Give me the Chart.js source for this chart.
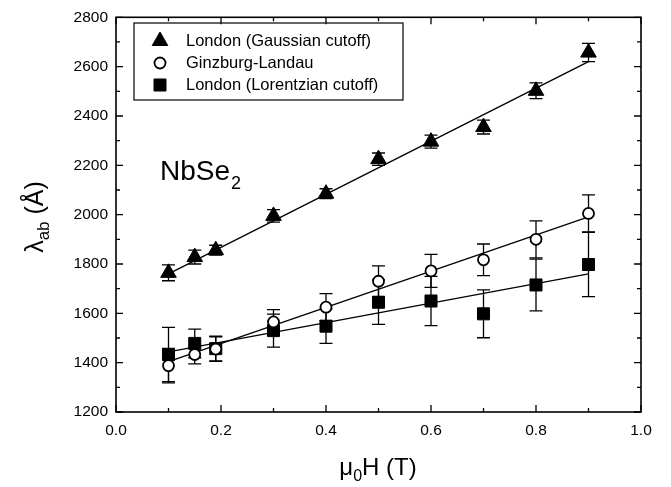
<!DOCTYPE html>
<html>
<head>
<meta charset="utf-8">
<title>NbSe2 penetration depth</title>
<script src="https://cdn.jsdelivr.net/npm/chart.js@4.4.1/dist/chart.umd.min.js"></script>
<style>
  html, body { margin: 0; padding: 0; background: #fff; }
  #wrap { width: 671px; height: 487px; position: relative; }
</style>
</head>
<body>
<div id="wrap"><canvas id="lambda-chart"></canvas></div>
<script>
// field values (T)
const fieldT = [0.1, 0.15, 0.19, 0.3, 0.4, 0.5, 0.6, 0.7, 0.8, 0.9];

// lambda_ab (Angstrom) and error bars for each model
const gaussLambda = [1764, 1828, 1856, 1995, 2085, 2225, 2296, 2355, 2502, 2657];
const gaussErr    = [32, 28, 20, 25, 20, 25, 26, 28, 32, 37];
const glLambda    = [1388, 1433, 1455, 1565, 1625, 1730, 1772, 1817, 1900, 2005];
const glErr       = [70, 38, 50, 50, 55, 62, 67, 64, 75, 75];
const lorLambda   = [1433, 1478, 1457, 1530, 1548, 1645, 1650, 1598, 1715, 1798];
const lorErr      = [110, 58, 50, 67, 70, 90, 100, 97, 105, 130];

// straight-line fits, given at the ends of the field range
const fitX     = [0.1, 0.9];
const gaussFit = [1760, 2620];
const glFit    = [1404, 1991];
const lorFit   = [1444, 1760];

const seriesLabels = ['London (Gaussian cutoff)', 'Ginzburg-Landau', 'London (Lorentzian cutoff)'];

const FONT = 'Arial, "Liberation Sans", Helvetica, sans-serif';

function pts(xs, ys) {
  return xs.map((x, i) => ({ x: x, y: ys[i] }));
}

function fitSet(ys) {
  return {
    data: pts(fitX, ys),
    showLine: true,
    borderColor: '#000',
    borderWidth: 1.3,
    pointRadius: 0,
    order: 2
  };
}

let data = {
  datasets: [
    {
      label: seriesLabels[0],
      data: pts(fieldT, gaussLambda),
      errs: gaussErr,
      pointStyle: 'triangle',
      pointRadius: 9,
      backgroundColor: '#000',
      borderColor: '#000',
      borderWidth: 1,
      order: 0
    },
    {
      label: seriesLabels[1],
      data: pts(fieldT, glLambda),
      errs: glErr,
      pointStyle: 'circle',
      pointRadius: 5.5,
      backgroundColor: '#fff',
      borderColor: '#000',
      borderWidth: 1.8,
      order: 0
    },
    {
      label: seriesLabels[2],
      data: pts(fieldT, lorLambda),
      errs: lorErr,
      pointStyle: 'rect',
      pointRadius: 8.5,
      backgroundColor: '#000',
      borderColor: '#000',
      borderWidth: 1,
      order: 0
    },
    fitSet(gaussFit),
    fitSet(glFit),
    fitSet(lorFit)
  ]
};

// error bars go under the markers
const errorBars = {
  id: 'errorBars',
  beforeDatasetsDraw(chart) {
    const ctx = chart.ctx;
    const xs = chart.scales.x, ys = chart.scales.y;
    ctx.save();
    ctx.strokeStyle = '#000';
    ctx.lineWidth = 1.3;
    chart.data.datasets.forEach(ds => {
      if (!ds.errs) return;
      ds.data.forEach((p, i) => {
        const px = xs.getPixelForValue(p.x);
        const top = ys.getPixelForValue(p.y + ds.errs[i]);
        const bot = ys.getPixelForValue(p.y - ds.errs[i]);
        ctx.beginPath();
        ctx.moveTo(px, top); ctx.lineTo(px, bot);
        ctx.moveTo(px - 6.5, top); ctx.lineTo(px + 6.5, top);
        ctx.moveTo(px - 6.5, bot); ctx.lineTo(px + 6.5, bot);
        ctx.stroke();
      });
    });
    ctx.restore();
  }
};

// frame, inward ticks on all four sides, titles, legend box and label
const decorations = {
  id: 'decorations',
  afterDraw(chart) {
    const ctx = chart.ctx;
    const a = chart.chartArea;
    const xs = chart.scales.x, ys = chart.scales.y;
    ctx.save();
    ctx.strokeStyle = '#000';
    ctx.lineWidth = 1.6;
    ctx.strokeRect(a.left, a.top, a.right - a.left, a.bottom - a.top);

    ctx.lineWidth = 1.3;
    ctx.beginPath();
    for (let v = 0; v <= 10; v++) {
      const px = xs.getPixelForValue(v / 10);
      const len = v % 2 === 0 ? 7 : 4;
      ctx.moveTo(px, a.bottom); ctx.lineTo(px, a.bottom - len);
      ctx.moveTo(px, a.top); ctx.lineTo(px, a.top + len);
    }
    for (let v = 1200; v <= 2800; v += 100) {
      const py = ys.getPixelForValue(v);
      const len = v % 200 === 0 ? 7 : 4;
      ctx.moveTo(a.left, py); ctx.lineTo(a.left + len, py);
      ctx.moveTo(a.right, py); ctx.lineTo(a.right - len, py);
    }
    ctx.stroke();

    ctx.fillStyle = '#000';
    ctx.textBaseline = 'alphabetic';

    // x title: mu_0 H (T)
    let parts = [['\u03bc', 24, 0], ['0', 16, 6], ['H (T)', 24, 0]];
    drawParts(ctx, parts, 378, 475);

    // y title: lambda_ab (A-ring), rotated
    ctx.save();
    ctx.translate(43, 217);
    ctx.rotate(-Math.PI / 2);
    parts = [['\u03bb', 25, 0], ['ab', 17, 6], [' (\u00c5)', 25, 0]];
    drawParts(ctx, parts, 0, 0);
    ctx.restore();

    // sample label
    ctx.textAlign = 'left';
    ctx.font = '28px ' + FONT;
    ctx.fillText('NbSe', 160, 180);
    const w = ctx.measureText('NbSe').width;
    ctx.font = '18px ' + FONT;
    ctx.fillText('2', 160 + w + 1, 189);

    // legend
    ctx.lineWidth = 1.2;
    ctx.strokeRect(134, 23, 269, 77);
    ctx.font = '16.5px ' + FONT;
    ctx.textBaseline = 'middle';
    chart.data.datasets.slice(0, 3).forEach((ds, i) => {
      const cy = 41 + i * 22;
      ctx.fillStyle = ds.backgroundColor;
      ctx.strokeStyle = ds.borderColor;
      ctx.lineWidth = ds.borderWidth;
      Chart.helpers.drawPoint(ctx, { pointStyle: ds.pointStyle, radius: ds.pointRadius, borderWidth: ds.borderWidth }, 160, cy);
      ctx.fillStyle = '#000';
      ctx.fillText(ds.label, 186, cy);
    });
    ctx.restore();
  }
};

// text runs with subscripts, centred on cx
function drawParts(ctx, parts, cx, baseY) {
  let total = 0;
  parts.forEach(p => { ctx.font = p[1] + 'px ' + FONT; total += ctx.measureText(p[0]).width; });
  let x = cx - total / 2;
  ctx.textAlign = 'left';
  parts.forEach(p => {
    ctx.font = p[1] + 'px ' + FONT;
    ctx.fillText(p[0], x, baseY + p[2]);
    x += ctx.measureText(p[0]).width;
  });
}

let config = {
  type: 'scatter',
  data,
  options: {
    responsive: true,
    maintainAspectRatio: false,
    animation: false,
    layout: { padding: { top: 12, right: 30, left: 0, bottom: 0 } },
    plugins: { legend: { display: false }, tooltip: { enabled: false } },
    scales: {
      x: {
        type: 'linear',
        min: 0, max: 1,
        grid: { display: false, drawTicks: false },
        border: { display: false },
        ticks: {
          stepSize: 0.2,
          padding: 9,
          color: '#000',
          font: { family: FONT, size: 15.5 },
          callback: v => v.toFixed(1)
        },
        afterFit(scale) { scale.height = 75; }
      },
      y: {
        min: 1200, max: 2800,
        grid: { display: false, drawTicks: false },
        border: { display: false },
        ticks: {
          stepSize: 200,
          padding: 8,
          color: '#000',
          font: { family: FONT, size: 15.5 },
          callback: v => String(v)
        },
        afterFit(scale) { scale.width = 116; }
      }
    }
  },
  plugins: [errorBars, decorations]
};

var myChart = new Chart(document.getElementById('lambda-chart'), config);
</script>
</body>
</html>
